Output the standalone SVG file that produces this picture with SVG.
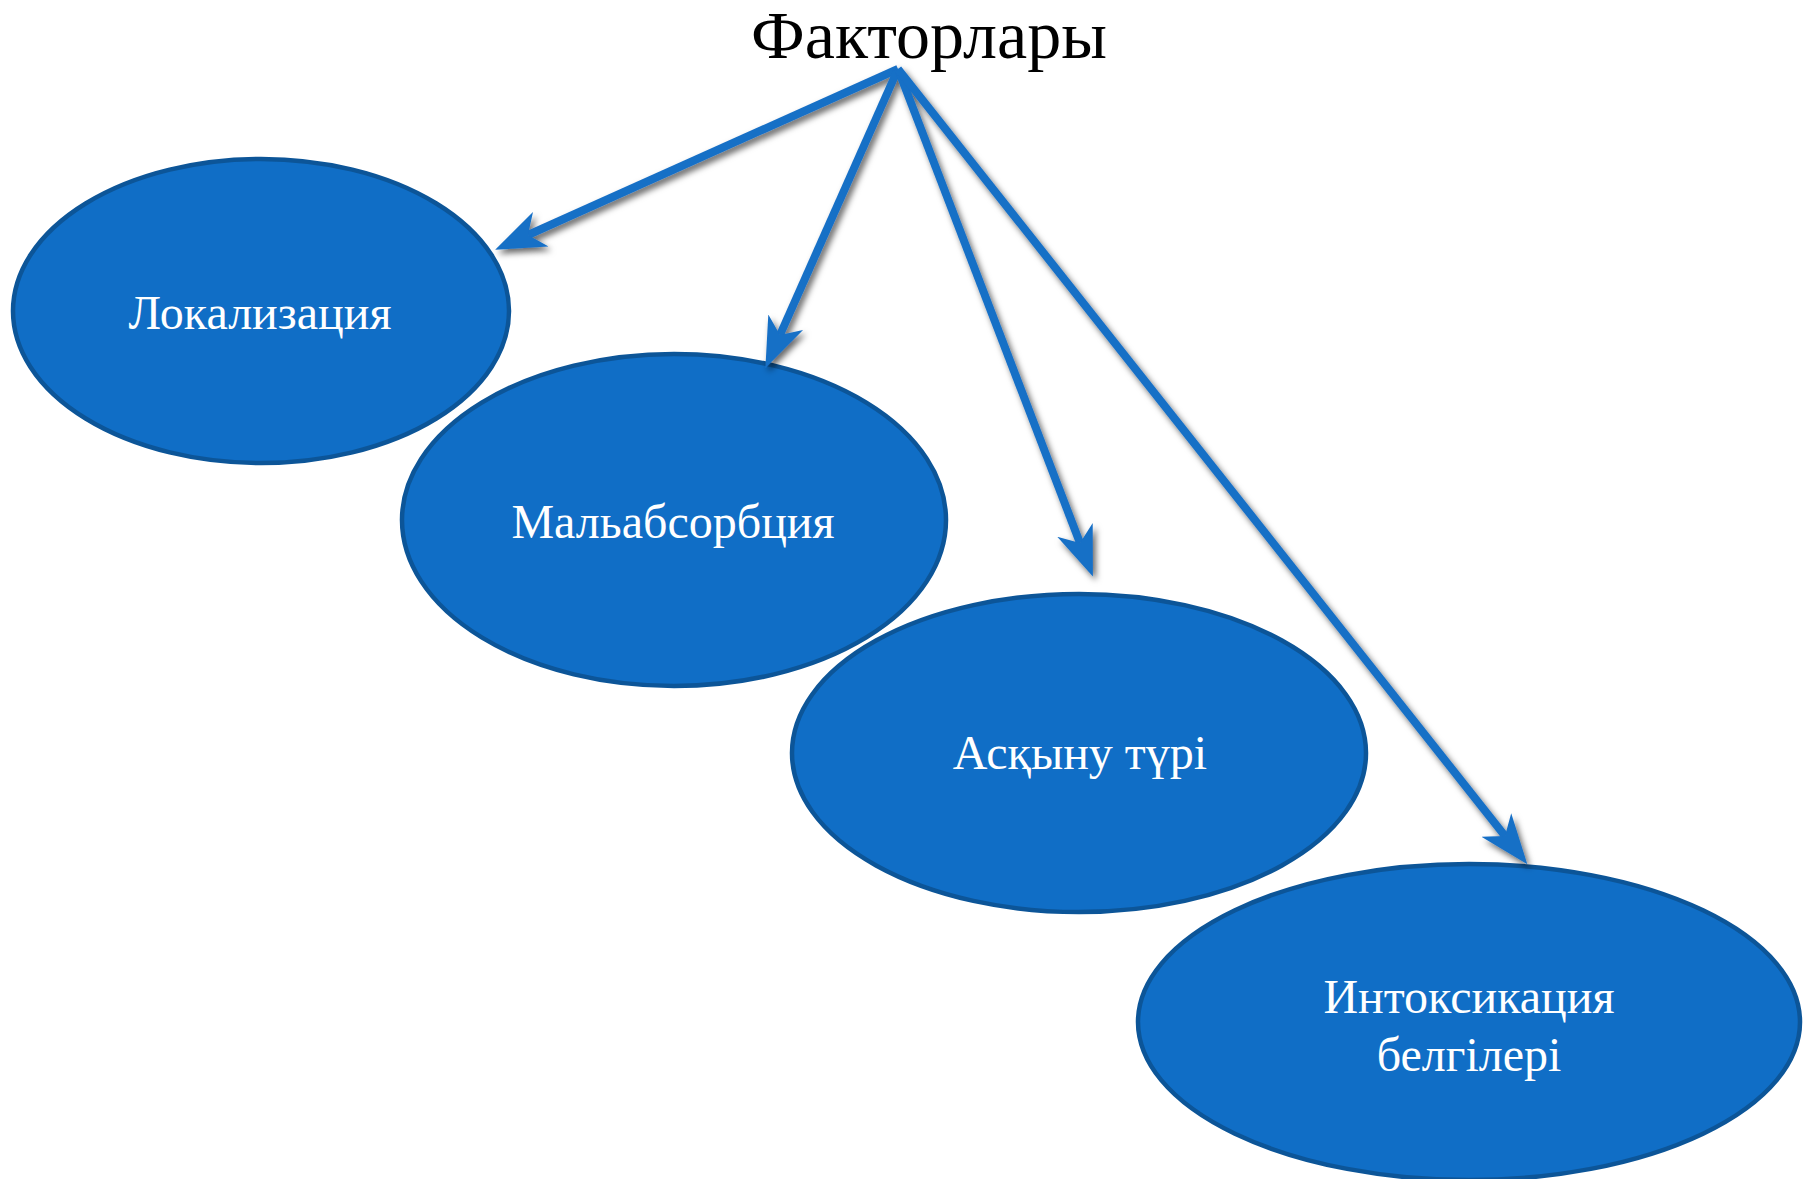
<svg xmlns="http://www.w3.org/2000/svg" width="1812" height="1179" viewBox="0 0 1812 1179">
<style>
.node ellipse{fill:#106ec6;stroke:#0c5598;stroke-width:4.5}
.lbl{font-family:"Liberation Serif","Times New Roman",serif;font-size:48px;fill:#ffffff;text-anchor:middle}
.title{font-family:"Liberation Serif","Times New Roman",serif;font-size:68px;fill:#000000;text-anchor:middle}
.conn line{stroke:#186fc6;stroke-width:8;stroke-linecap:butt}
</style>
<defs>
<filter id="sh" x="-20%" y="-20%" width="140%" height="140%">
<feDropShadow dx="3" dy="4" stdDeviation="3" flood-color="#000" flood-opacity="0.6"/>
</filter>
<marker id="ah" viewBox="0 0 50 40" markerUnits="userSpaceOnUse" markerWidth="50" markerHeight="40" refX="14" refY="20" orient="auto">
<path d="M50,20 L0,1 L14,20 L0,39 Z" fill="#186fc6"/>
</marker>
</defs>
<rect width="1812" height="1179" fill="#ffffff"/>
<text class="title" x="929" y="58">Факторлары</text>
<g id="n1" class="node"><ellipse cx="261" cy="311" rx="248" ry="152"/><text class="lbl" x="260" y="329">Локализация</text></g>
<g id="n2" class="node"><ellipse cx="674" cy="520" rx="272" ry="166"/><text class="lbl" x="673" y="538">Мальабсорбция</text></g>
<g id="n3" class="node"><ellipse cx="1079" cy="753" rx="287" ry="159"/><text class="lbl" x="1080" y="769">Асқыну түрі</text></g>
<g id="n4" class="node"><ellipse cx="1469" cy="1022" rx="331" ry="158"/><text class="lbl" x="1469" y="1013">Интоксикация</text><text class="lbl" x="1469" y="1071">белгілері</text></g>
<g id="connectors" class="conn" filter="url(#sh)">
<line x1="898" y1="69" x2="528" y2="235" marker-end="url(#ah)"/>
<line x1="898" y1="69" x2="780" y2="335" marker-end="url(#ah)"/>
<line x1="898" y1="69" x2="1080" y2="543" marker-end="url(#ah)"/>
<line x1="898" y1="69" x2="1505" y2="836" marker-end="url(#ah)"/>
</g>
</svg>
